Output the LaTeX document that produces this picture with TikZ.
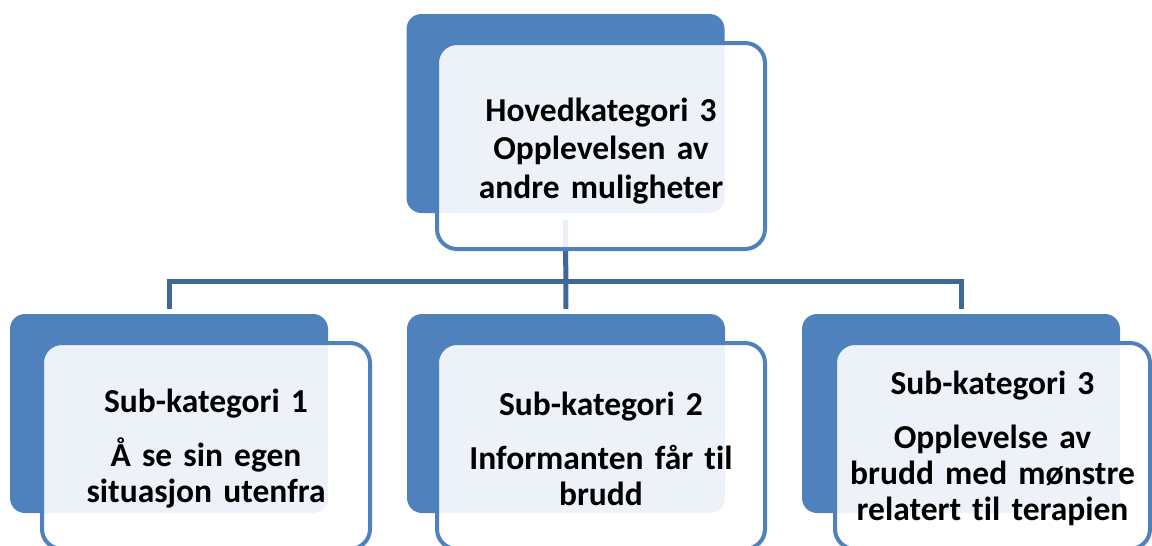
\documentclass[tikz,border=0pt]{standalone}
\usepackage{fontspec}
\setmainfont[Ligatures=CommonOff, WordSpace=0.75]{Carlito}
\definecolor{backblue}{HTML}{4F81BD}
\definecolor{connblue}{HTML}{3F6797}
\pgfdeclarelayer{back}
\pgfdeclarelayer{conn}
\pgfsetlayers{back,conn,main}
\tikzset{
  backbox/.style={fill=backblue, draw=none, rounded corners=15pt, minimum width=318pt, minimum height=199pt, inner sep=0pt},
  frontbox/.style={draw=backblue, line width=4pt, fill=white, fill opacity=0.9, rounded corners=20pt, minimum width=328pt, minimum height=206pt, inner sep=0pt},
  maintext/.style={align=center, text width=320pt, inner sep=0pt, font=\bfseries\fontsize{33.5}{38.5}\selectfont},
  subtext/.style={align=center, text width=320pt, inner sep=0pt, font=\bfseries\fontsize{33.5}{36}\selectfont},
  connector/.style={draw=connblue, line width=5pt}
}
\begin{document}
\begin{tikzpicture}[x=1pt,y=-1pt]
\useasboundingbox (0,0) rectangle (1152,546);
\clip (0,0) rectangle (1152,546);
\begin{pgfonlayer}{back}
\node[backbox] (tb) at (565.5,113.5) {};
\node[backbox] (b1) at (169,413.5) {};
\node[backbox] (b2) at (566,413.5) {};
\node[backbox] (b3) at (961,413.5) {};
\end{pgfonlayer}
\node[frontbox] (t) at (601,146) {};
\node[frontbox] (s1) at (206,446) {};
\node[frontbox] (s2) at (601,446) {};
\node[frontbox, minimum width=315pt] (s3) at (992.5,446) {};
\node[maintext, yshift=-5pt] (tt) at (t.center) {Hovedkategori 3\\Opplevelsen av\\andre muligheter};
\node[subtext, yshift=-3pt] (st1) at (s1.center) {Sub-kategori 1\\[18pt]Å se sin egen\\situasjon utenfra};
\node[subtext, yshift=-3pt] (st2) at (s2.center) {Sub-kategori 2\\[18pt]Informanten får til\\brudd};
\node[subtext, yshift=-2pt] (st3) at (s3.center) {Sub-kategori 3\\[18pt]Opplevelse av\\brudd med mønstre\\relatert til terapien};
\coordinate (c0) at (565.5,220);
\coordinate (hub) at (565.5,281);
\begin{pgfonlayer}{conn}
\draw[connector, shorten >=5pt] (c0) -- (b2.north);
\draw[connector, shorten >=5pt] (hub) -| (b1.north);
\draw[connector, shorten >=5pt] (hub) -| (b3.north);
\end{pgfonlayer}
\end{tikzpicture}
\end{document}
